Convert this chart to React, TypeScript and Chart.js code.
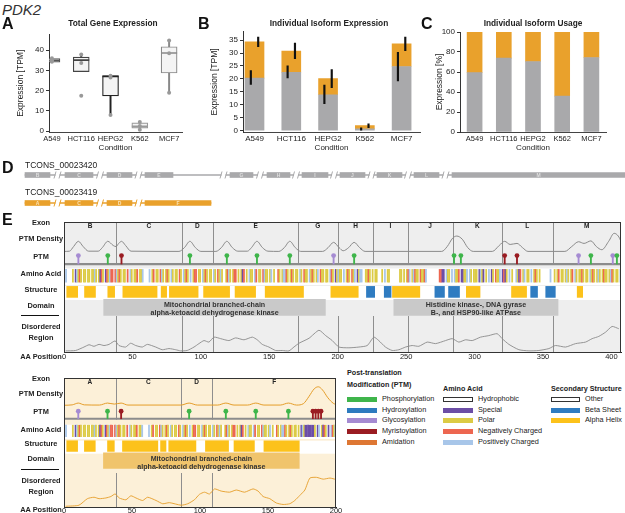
import React, { useEffect, useRef } from "react";
import { Chart, registerables } from "chart.js";
Chart.register(...registerables);

const FONT = "'Liberation Sans', Arial, Helvetica, sans-serif";
Chart.defaults.font.family = FONT;
Chart.defaults.color = "#222";

const GRAY = "#a9a9ab";
const ORANGE = "#e9a12c";

// ---------- Panels A-C ----------
const conditions = ["A549", "HCT116", "HEPG2", "K562", "MCF7"];
const totalQ1 = [34.1, 29.4, 17.4, 1.4, 28.7];
const totalMedian = [35.0, 35.1, 27.0, 2.3, 38.6];
const totalQ3 = [35.9, 36.6, 27.4, 4.1, 41.7];
const totalWhiskerLow = [33.9, 29.4, 8.0, 0.6, 19.0];
const totalWhiskerHigh = [36.3, 37.9, 27.6, 4.4, 44.8];
const totalPoints = [
  [36.0, 35.0, 34.3],
  [37.9, 33.7, 17.5],
  [27.4, 26.5, 8.0],
  [4.5, 2.5, 0.6],
  [44.8, 38.5, 19.0],
];
const boxEdge = ["#555", "#444", "#222", "#999", "#888"];

const isoGrayTPM = [20.3, 22.6, 13.9, 0.72, 24.8];
const isoOrangeTPM = [14.0, 8.2, 6.2, 1.28, 8.8];
const isoGrayErrLow = [17.9, 20.4, 10.5, 0.0, 19.2];
const isoGrayErrHigh = [23.2, 25.1, 17.6, 1.1, 30.3];
const isoTotalErrLow = [32.5, 27.8, 16.6, 1.2, 30.9];
const isoTotalErrHigh = [36.2, 33.8, 23.6, 2.7, 36.2];

const usageGray = [59.4, 73.8, 70.5, 35.9, 74.5];
const usageOrange = [40.6, 26.2, 29.5, 64.1, 25.5];

// ---------- Panel D ----------
const iso1Name = "TCONS_00023420";
const iso2Name = "TCONS_00023419";
const iso1ExonLabels = ["B", "C", "D", "E", "G", "H", "I", "J", "K", "L", "M"];
const iso2ExonLabels = ["A", "C", "D", "F"];
const trackGrayStart = [25, 65, 107, 145, 230, 267, 302, 340, 377, 414, 452];
const trackGrayEnd = [50, 93, 132, 173, 253, 290, 328, 365, 402, 439, 625];
const trackGrayBreaks = [57.5, 100, 138.5, 223.5, 260, 296, 334, 371.5, 408, 445.5];
const trackOrangeStart = [25, 65, 107, 145];
const trackOrangeEnd = [50, 93, 132, 211];
const trackOrangeBreaks = [57.5, 100, 138.5];

// ---------- Panel E ----------
const iso1Length = 407;
const iso2Length = 200;
const iso1ExonBounds = [0, 38, 86, 109, 171, 200, 226, 251, 284, 320, 357, 407];
const iso2ExonBounds = [0, 38, 86, 109, 200];

const iso1PtmPos = [10.5, 32, 42, 92, 119, 141, 165, 197, 212, 285, 290, 322, 331, 376, 385, 401, 404];
const iso1PtmType = ["Glycosylation", "Phosphorylation", "Myristoylation", "Phosphorylation", "Phosphorylation",
  "Phosphorylation", "Phosphorylation", "Glycosylation", "Phosphorylation", "Phosphorylation", "Phosphorylation",
  "Myristoylation", "Myristoylation", "Glycosylation", "Phosphorylation", "Glycosylation", "Phosphorylation"];
const iso2PtmPos = [10.5, 32, 42, 92, 119, 141, 165, 183, 185, 187, 189];
const iso2PtmType = ["Glycosylation", "Phosphorylation", "Myristoylation", "Phosphorylation", "Phosphorylation",
  "Phosphorylation", "Phosphorylation", "Myristoylation", "Myristoylation", "Myristoylation", "Myristoylation"];

const iso1Density = [
  [0, 0.02], [4, 0.03], [7, 0.25], [10.5, 0.5], [14, 0.25], [18, 0.03],
  [25, 0.03], [28, 0.2], [32, 0.5], [36, 0.3], [38, 0.25], [40, 0.4], [42, 0.5], [45, 0.3], [49, 0.03],
  [84, 0.02], [88, 0.2], [92, 0.5], [96, 0.2], [100, 0.02],
  [111, 0.02], [115, 0.2], [119, 0.5], [123, 0.2], [127, 0.03],
  [134, 0.03], [137, 0.2], [141, 0.5], [145, 0.2], [149, 0.03],
  [157, 0.02], [161, 0.2], [165, 0.5], [169, 0.2], [173, 0.02],
  [189, 0.02], [193, 0.2], [197, 0.45], [201, 0.2], [204, 0.05], [208, 0.2], [212, 0.45], [216, 0.2], [220, 0.02],
  [276, 0.02], [280, 0.25], [284, 0.65], [287, 0.75], [291, 0.6], [295, 0.2], [299, 0.02],
  [313, 0.02], [318, 0.3], [322, 0.5], [326, 0.35], [331, 0.4], [335, 0.2], [339, 0.02],
  [366, 0.02], [371, 0.25], [376, 0.48], [380, 0.4], [385, 0.52], [389, 0.25], [393, 0.1],
  [398, 0.5], [402, 0.88], [405, 0.75], [407, 0.5],
];
const iso2Density = [
  [0, 0.02], [6, 0.04], [10.5, 0.13], [15, 0.04], [26, 0.03], [32, 0.13], [37, 0.08], [42, 0.13], [47, 0.03],
  [86, 0.03], [92, 0.13], [98, 0.03], [113, 0.03], [119, 0.13], [125, 0.03], [135, 0.03], [141, 0.13],
  [147, 0.03], [159, 0.03], [165, 0.13], [171, 0.03], [176, 0.1], [180, 0.45], [184, 0.85], [187, 0.95],
  [190, 0.8], [194, 0.4], [198, 0.12], [200, 0.06],
];

const iso1Disorder = [
  [1.2, 0.03], [8.5, 0.04], [14.6, 0.13], [18.3, 0.19], [21.9, 0.15], [25.6, 0.2], [29.2, 0.17], [32.9, 0.2],
  [37.3, 0.29], [40.2, 0.17], [45, 0.13], [48.7, 0.23], [52.4, 0.17], [57.2, 0.13], [60.9, 0.2], [67, 0.13],
  [71.8, 0.06], [76.7, 0.09], [81.6, 0.06], [85.2, 0.03], [90, 0.04], [95, 0.13], [98.6, 0.22], [102.3, 0.3],
  [105.9, 0.26], [109.6, 0.39], [114.5, 0.35], [120.5, 0.3], [125.4, 0.37], [131.5, 0.32], [137.6, 0.39],
  [141.2, 0.32], [144.9, 0.2], [149.7, 0.13], [154.6, 0.04], [159.5, 0.04], [164.4, 0.03], [168, 0.13],
  [171.7, 0.23], [179, 0.36], [186.3, 0.57], [191.2, 0.43], [196, 0.3], [200.9, 0.13], [208.2, 0.11],
  [215.5, 0.13], [221.6, 0.17], [226.4, 0.39], [230, 0.3], [234.9, 0.13], [239.8, 0.04], [244.7, 0.06],
  [249.6, 0.13], [254.4, 0.17], [259.3, 0.15], [265.4, 0.26], [271.5, 0.22], [278.8, 0.3], [283.7, 0.35],
  [288.5, 0.26], [293.4, 0.32], [298.3, 0.3], [304.4, 0.39], [310.4, 0.43], [316.5, 0.48], [320.2, 0.35],
  [325.1, 0.2], [332.4, 0.06], [339.7, 0.03], [347, 0.04], [354.3, 0.09], [359.1, 0.17], [366.5, 0.13],
  [373.8, 0.22], [381.1, 0.26], [385.9, 0.35], [390.8, 0.41], [395.7, 0.52], [400.5, 0.67], [405.4, 0.61],
];
const iso2Disorder = [
  [1.2, 0.02], [11, 0.05], [17.2, 0.23], [22.1, 0.27], [25.8, 0.23], [30.8, 0.25], [34.5, 0.29], [37.6, 0.36],
  [40.6, 0.25], [45.5, 0.2], [49.2, 0.31], [52.9, 0.25], [57.8, 0.18], [61.5, 0.27], [67.7, 0.18], [72.6, 0.09],
  [77.5, 0.12], [86.1, 0.05], [91, 0.09], [95.9, 0.2], [99.6, 0.35], [103.3, 0.41], [107, 0.36], [110.7, 0.5],
  [115.6, 0.44], [121.8, 0.41], [126.7, 0.47], [132.8, 0.41], [139, 0.5], [142.7, 0.44], [146.4, 0.29],
  [151.3, 0.23], [156.2, 0.11], [161.1, 0.07], [166, 0.09], [169.7, 0.18], [173.4, 0.32], [177.1, 0.47],
  [180.8, 0.8], [185.7, 0.82], [190.6, 0.77], [195.6, 0.8], [200, 0.76],
];

// amino-acid class per residue: . hydrophobic, s special, p polar, n negative, b positive
const iso1AAClass = [
  ".b....p.sb", "pnp.pp.pp.", "ppbp.psnp.", "snpbnn.nbp", "np.pp.n.bp",
  ".ppn.ppb..", "..b.pn.pp.", "nbp.pnp.bp", ".pp.np.bpn", "p.b.pnn.pp",
  ".bpnp.pp.b", "p.npbp..pn", "bp.pnn.p.p", "sn.p.bpp.b", "n.pp.nbpp.",
  "pb.p..np.p", "bbnp.pnp.p", "p.bp.npp.b", "pnp.pb.npp", ".pp.bnp.sp",
  "bpp.b.pnp.", "npb.spbb..", "ppnp.p.pp.", "..p.b.pp..", ".....pp.p.",
  "pnb.pbnpp.", "nppnb.....", "....nnss.b", "pp.b.bppn.", "ssppb.bp.p",
  "pp.sbps.p.", "b.sp.nppb.", "snsp.b.p..", "bpsn.pb.pp", ".b.pnp.p..",
  ".....b..p.", "pn.pp.pbp.", "pn.bp.ppnp", ".pp.bpnp.p", "bp.pnpp.pb",
  "np.pp.b",
].join("");
const iso2AAClass = iso1AAClass.slice(0, 172) + "p.sbpsssssssp.sb.psnp.s.bnpb";

const iso1Helix = [[2, 10], [15, 23], [32, 37], [43, 68], [71, 75], [77, 98], [102, 121], [125, 140], [147, 175],
  [195, 215], [240, 260], [294, 304], [327, 338], [375, 379]];
const iso1Sheet = [[221, 227], [234, 239], [271, 278], [281, 289], [341, 346], [352, 359]];
const iso2Helix = [[2, 10], [15, 23], [32, 37], [43, 69], [71, 75], [77, 97], [104, 121], [125, 140], [147, 173]];
const iso2Sheet: number[][] = [];

const iso1DomainStart = [29, 241];
const iso1DomainEnd = [191, 361];
const iso1DomainText = [
  ["Mitochondrial branched-chain", "alpha-ketoacid dehydrogenase kinase"],
  ["Histidine kinase-, DNA gyrase", "B-, and HSP90-like ATPase"],
];
const iso2DomainStart = [29];
const iso2DomainEnd = [173];
const iso2DomainText = [["Mitochondrial branched-chain", "alpha-ketoacid dehydrogenase kinase"]];

const ptmLegend = ["Phosphorylation", "Hydroxylation", "Glycosylation", "Myristoylation", "Amidation"];
const aaLegend = ["Hydrophobic", "Special", "Polar", "Negatively Charged", "Positively Charged"];
const ssLegend = ["Other", "Beta Sheet", "Alpha Helix"];

const PTM_COLORS: Record<string, string> = {
  Phosphorylation: "#3fb54b", Hydroxylation: "#2d7bbf", Glycosylation: "#a58bd2",
  Myristoylation: "#9a1c22", Amidation: "#de7733",
};
const AA_COLORS: Record<string, string> = { s: "#6c4ea6", p: "#dccb45", n: "#ed6650", b: "#a8c6e9" };
const AA_LEGEND_COLORS = ["#ffffff", "#6c4ea6", "#dccb45", "#ed6650", "#a8c6e9"];
const SS_LEGEND_COLORS = ["#ffffff", "#2f7cc1", "#fcc21b"];
const HELIX = "#fcc21b";
const SHEET = "#2f7cc1";

// ---------- helpers ----------
const baseOptions = (extra: any) => ({
  responsive: false,
  animation: false,
  devicePixelRatio: 1,
  events: [],
  plugins: { legend: { display: false }, tooltip: { enabled: false }, title: { display: false } },
  ...extra,
});

const yAxisABC = (min: number, max: number, step: number, title: string, width: number) => ({
  type: "linear",
  min,
  max,
  offset: false,
  grid: { display: true, drawOnChartArea: false, drawTicks: true, tickLength: 3, color: "#333" },
  border: { display: true, color: "#333", width: 1 },
  ticks: { stepSize: step, includeBounds: false, padding: 2, font: { size: 8 }, color: "#222" },
  title: { display: true, text: title, font: { size: 8.5 }, padding: 0, color: "#222" },
  afterFit: (s: any) => { s.width = width; },
});
const xAxisABC = (min: number, max: number, fontSize: number) => ({
  type: "linear",
  min,
  max,
  offset: false,
  grid: { display: false, drawTicks: false, offset: false },
  border: { display: true, color: "#444", width: 1 },
  ticks: {
    autoSkip: false, maxRotation: 0, padding: 2,
    font: { size: fontSize }, color: "#222",
    callback: (v: any) => conditions[v] ?? "",
  },
  afterBuildTicks: (s: any) => { s.ticks = conditions.map((c, i) => ({ value: i })); },
  title: { display: true, text: "Condition", font: { size: 8 }, padding: 0, color: "#222" },
  afterFit: (s: any) => { s.height = 21; },
});

function makeA() {
  const pts: any[] = [];
  totalPoints.forEach((arr, i) => arr.forEach((v) => pts.push({ x: i, y: v })));
  return {
    type: "bar",
    data: {
      datasets: [
        { type: "scatter", data: pts, pointRadius: 2, pointBackgroundColor: "#999", pointBorderWidth: 0, order: 1 },
        {
          type: "scatter", data: conditions.map((c, i) => ({ x: i, y: totalMedian[i] })), pointStyle: "line",
          pointRadius: 8, pointBorderColor: boxEdge, pointBorderWidth: 1.6, order: 2,
        },
        {
          type: "bar", data: conditions.map((c, i) => ({ x: i, y: [totalQ1[i], totalQ3[i]] })),
          backgroundColor: "#f4f4f4", borderColor: boxEdge, borderWidth: 1.2, borderSkipped: false,
          barThickness: 16, grouped: false, order: 3,
        },
        {
          type: "bar", data: conditions.map((c, i) => ({ x: i, y: [totalWhiskerLow[i], totalQ1[i]] })),
          backgroundColor: boxEdge, barThickness: 1.3, grouped: false, order: 4,
        },
        {
          type: "bar", data: conditions.map((c, i) => ({ x: i, y: [totalQ3[i], totalWhiskerHigh[i]] })),
          backgroundColor: boxEdge, barThickness: 1.3, grouped: false, order: 4,
        },
      ],
    },
    options: baseOptions({
      layout: { padding: { left: 16, top: 3, right: 13, bottom: 0 } },
      scales: { x: xAxisABC(-0.1, 4.44, 7.5), y: yAxisABC(-0.46, 47.7, 10, "Expression [TPM]", 33) },
    }),
  };
}

function makeB() {
  return {
    type: "bar",
    data: {
      datasets: [
        {
          type: "bar", data: conditions.map((c, i) => ({ x: i - 0.1, y: [isoGrayErrLow[i], isoGrayErrHigh[i]] })),
          backgroundColor: "#111", barThickness: 1.5, grouped: false, order: 1,
        },
        {
          type: "bar", data: conditions.map((c, i) => ({ x: i + 0.1, y: [isoTotalErrLow[i], isoTotalErrHigh[i]] })),
          backgroundColor: "#111", barThickness: 1.5, grouped: false, order: 1,
        },
        {
          type: "bar", data: conditions.map((c, i) => ({ x: i, y: [0, isoGrayTPM[i]] })),
          backgroundColor: GRAY, barThickness: 19, grouped: false, order: 2,
        },
        {
          type: "bar", data: conditions.map((c, i) => ({ x: i, y: [isoGrayTPM[i], isoGrayTPM[i] + isoOrangeTPM[i]] })),
          backgroundColor: ORANGE, barThickness: 19, grouped: false, order: 2,
        },
      ],
    },
    options: baseOptions({
      layout: { padding: { left: 10, top: 3, right: 5, bottom: 0 } },
      scales: { x: xAxisABC(-0.313, 4.5, 8), y: yAxisABC(-0.48, 38.2, 5, "Expression [TPM]", 33) },
    }),
  };
}

function makeC() {
  return {
    type: "bar",
    data: {
      datasets: [
        {
          type: "bar", data: conditions.map((c, i) => ({ x: i, y: [0, usageGray[i]] })),
          backgroundColor: GRAY, barThickness: 15, grouped: false,
        },
        {
          type: "bar", data: conditions.map((c, i) => ({ x: i, y: [usageGray[i], usageGray[i] + usageOrange[i]] })),
          backgroundColor: ORANGE, barThickness: 15, grouped: false,
        },
      ],
    },
    options: baseOptions({
      layout: { padding: { left: 20, top: 7, right: 19, bottom: 0 } },
      scales: { x: xAxisABC(-0.5, 4.5, 7.5), y: yAxisABC(0, 100, 20, "Expression [%]", 25) },
    }),
  };
}

function makeD() {
  const tracks = [
    { name: iso1Name, starts: trackGrayStart, ends: trackGrayEnd, breaks: trackGrayBreaks, labels: iso1ExonLabels, color: GRAY, text: "#dedede" },
    { name: iso2Name, starts: trackOrangeStart, ends: trackOrangeEnd, breaks: trackOrangeBreaks, labels: iso2ExonLabels, color: ORANGE, text: "#fbe2b4" },
  ];
  const datasets: any[] = [];
  tracks.forEach((t) => {
    datasets.push({
      type: "bar", data: t.starts.map((s, i) => ({ x: [s, t.ends[i]], y: t.name })),
      backgroundColor: t.color, barThickness: 5, grouped: false, order: 1,
    });
    datasets.push({
      type: "bar", data: [{ x: [t.starts[0], t.ends[t.ends.length - 1]], y: t.name }],
      backgroundColor: t.color, barThickness: 1, grouped: false, order: 2,
    });
  });
  const plugin = {
    id: "dDecor",
    afterDatasetsDraw(chart: any) {
      const { ctx, scales } = chart;
      const x = scales.x, y = scales.y;
      ctx.save();
      tracks.forEach((t, row) => {
        const cy = y.getPixelForValue(row);
        t.breaks.forEach((b) => {
          const cx = x.getPixelForValue(b);
          ctx.fillStyle = "#fff";
          ctx.fillRect(cx - 2, cy - 1.5, 4, 3);
          ctx.strokeStyle = t.color;
          ctx.lineWidth = 1;
          ctx.beginPath();
          ctx.moveTo(cx - 3.5, cy + 3.5); ctx.lineTo(cx - 1.5, cy - 3.5);
          ctx.moveTo(cx + 1.5, cy + 3.5); ctx.lineTo(cx + 3.5, cy - 3.5);
          ctx.stroke();
        });
        ctx.fillStyle = t.text;
        ctx.font = `bold 5px ${FONT}`;
        ctx.textAlign = "center";
        ctx.textBaseline = "middle";
        t.labels.forEach((l, i) => {
          const cx = (x.getPixelForValue(t.starts[i]) + x.getPixelForValue(t.ends[i])) / 2;
          ctx.fillText(l, cx, cy + 0.3);
        });
      });
      ctx.restore();
    },
  };
  return {
    type: "bar",
    data: { labels: [iso1Name, iso2Name], datasets },
    options: baseOptions({
      indexAxis: "y",
      layout: { padding: 0 },
      scales: {
        x: { type: "linear", min: 0, max: 625, display: false, offset: false },
        y: { type: "category", display: false, offset: true },
      },
    }),
    plugins: [plugin],
  };
}

type Row = [number, number];
interface ERows { label: number; dens: Row; ptm: Row; aa: Row; aaBand: Row; st: Row; stBand: Row; dom: Row; dis: Row; }
interface EParams {
  aaMax: number; areaW: number; areaH: number; padRight: number; tickPad: number;
  bounds: number[]; labels: string[]; ptmPos: number[]; ptmType: string[];
  density: number[][]; disorder: number[][]; aaClass: string; helix: number[][]; sheet: number[][];
  domStart: number[]; domEnd: number[]; domText: string[][];
  bg: string; curve: string; domFill: string; rows: ERows;
}

function makeE(p: EParams) {
  const H = p.areaH;
  const band = (r: Row) => ({
    type: "linear", axis: "y", display: false, offset: false,
    min: -(H - r[1]) / (r[1] - r[0]), max: 1 + r[0] / (r[1] - r[0]),
  });
  const aaData: any[] = [];
  const aaColors: string[] = [];
  for (let i = 0; i < p.aaClass.length; i++) {
    const c = AA_COLORS[p.aaClass[i]];
    if (c) { aaData.push({ x: i + 0.5, y: [0, 1] }); aaColors.push(c); }
  }
  const ptmColors = p.ptmType.map((t) => PTM_COLORS[t]);
  const residuePx = p.areaW / p.aaMax;
  const r = p.rows;
  const datasets: any[] = [
    {
      type: "scatter", yAxisID: "yPtm", data: p.ptmPos.map((v) => ({ x: v, y: 1 })),
      pointRadius: 2.4, pointBackgroundColor: ptmColors, pointBorderWidth: 0, order: 1,
    },
    {
      type: "bar", yAxisID: "yPtm", data: p.ptmPos.map((v) => ({ x: v, y: [0, 1] })),
      backgroundColor: ptmColors, barThickness: 1.2, grouped: false, order: 2,
    },
    {
      type: "line", yAxisID: "yPtm", data: [{ x: 0, y: 0 }, { x: p.aaMax, y: 0 }],
      borderColor: "#8c8c8c", borderWidth: 2.2, pointRadius: 0, order: 3,
    },
    {
      type: "line", yAxisID: "yDens", data: p.density.map(([x, y]) => ({ x, y })),
      borderColor: p.curve, borderWidth: 1, pointRadius: 0, cubicInterpolationMode: "monotone", order: 4,
    },
    {
      type: "line", yAxisID: "yDis", data: p.disorder.map(([x, y]) => ({ x, y })),
      borderColor: p.curve, borderWidth: 0.9, pointRadius: 0, tension: 0.2, order: 4,
    },
    {
      type: "bar", yAxisID: "yAA", data: aaData, backgroundColor: aaColors,
      barThickness: residuePx * 0.8, grouped: false, order: 5,
    },
    {
      type: "bar", indexAxis: "y", xAxisID: "x", yAxisID: "yStr",
      data: p.helix.map(([s, e]) => ({ x: [s, e], y: 0.5 })),
      backgroundColor: HELIX, barThickness: r.st[1] - r.st[0], grouped: false, order: 5,
    },
    {
      type: "bar", indexAxis: "y", xAxisID: "x", yAxisID: "yStr",
      data: p.sheet.map(([s, e]) => ({ x: [s, e], y: 0.5 })),
      backgroundColor: SHEET, barThickness: r.st[1] - r.st[0], grouped: false, order: 5,
    },
    {
      type: "bar", indexAxis: "y", xAxisID: "x", yAxisID: "yDom",
      data: p.domStart.map((s, i) => ({ x: [s, p.domEnd[i]], y: 0.5 })),
      backgroundColor: p.domFill, barThickness: r.dom[1] - r.dom[0], grouped: false, order: 6,
    },
  ];
  const plugin = {
    id: "eDecor",
    beforeDraw(chart: any) {
      const { ctx, chartArea: a, scales } = chart;
      const x = scales.x;
      ctx.save();
      ctx.fillStyle = p.bg;
      ctx.fillRect(a.left, a.top, a.width, a.height);
      ctx.fillStyle = "#fff";
      ctx.fillRect(a.left, a.top + r.aaBand[0], a.width, r.aaBand[1] - r.aaBand[0]);
      ctx.fillRect(a.left, a.top + r.stBand[0], a.width, r.stBand[1] - r.stBand[0]);
      ctx.strokeStyle = "#8e8e8e";
      ctx.lineWidth = 1;
      for (let i = 1; i < p.bounds.length - 1; i++) {
        const xx = Math.round(x.getPixelForValue(p.bounds[i])) + 0.5;
        ctx.beginPath();
        ctx.moveTo(xx, a.top); ctx.lineTo(xx, a.top + r.ptm[1]);
        ctx.moveTo(xx, a.top + r.dis[0]); ctx.lineTo(xx, a.bottom);
        ctx.stroke();
      }
      ctx.restore();
    },
    afterDraw(chart: any) {
      const { ctx, chartArea: a, scales } = chart;
      const x = scales.x;
      ctx.save();
      ctx.fillStyle = "#222";
      ctx.textAlign = "center";
      ctx.textBaseline = "middle";
      ctx.font = `bold 6.5px ${FONT}`;
      for (let i = 0; i < p.labels.length; i++) {
        const cx = (x.getPixelForValue(p.bounds[i]) + x.getPixelForValue(p.bounds[i + 1])) / 2;
        ctx.fillText(p.labels[i], cx, a.top + r.label);
      }
      ctx.font = `bold 7.1px ${FONT}`;
      ctx.fillStyle = "#333";
      const dc = a.top + (r.dom[0] + r.dom[1]) / 2;
      p.domStart.forEach((s, i) => {
        const cx = (x.getPixelForValue(s) + x.getPixelForValue(p.domEnd[i])) / 2;
        ctx.fillText(p.domText[i][0], cx, dc - 3.8);
        ctx.fillText(p.domText[i][1], cx, dc + 4.2);
      });
      ctx.strokeStyle = "#333";
      ctx.lineWidth = 1;
      ctx.strokeRect(Math.round(a.left) + 0.5, Math.round(a.top) + 0.5, Math.round(a.width) - 1, Math.round(a.height));
      ctx.restore();
    },
  };
  return {
    type: "bar",
    data: { datasets },
    options: baseOptions({
      layout: { padding: { left: 20, right: p.padRight, top: 1, bottom: 0 } },
      scales: {
        x: {
          type: "linear", min: 0, max: p.aaMax, offset: false,
          grid: { display: false, drawTicks: false, offset: false },
          border: { display: true, color: "#222", width: 1 },
          ticks: { stepSize: 50, includeBounds: false, autoSkip: false, maxRotation: 0, padding: p.tickPad, font: { size: 7.5 }, color: "#222" },
          afterFit: (s: any) => { s.height = 12; },
        },
        yDens: band(r.dens),
        yPtm: band(r.ptm),
        yAA: band(r.aa),
        yStr: band(r.st),
        yDom: band(r.dom),
        yDis: band(r.dis),
      },
    }),
    plugins: [plugin],
  };
}

function makeETop() {
  return makeE({
    aaMax: iso1Length, areaW: 558, areaH: 133, padRight: 3, tickPad: 0,
    bounds: iso1ExonBounds, labels: iso1ExonLabels, ptmPos: iso1PtmPos, ptmType: iso1PtmType,
    density: iso1Density, disorder: iso1Disorder, aaClass: iso1AAClass, helix: iso1Helix, sheet: iso1Sheet,
    domStart: iso1DomainStart, domEnd: iso1DomainEnd, domText: iso1DomainText,
    bg: "#eeeeee", curve: "#8a8a8a", domFill: "#c9c9c9",
    rows: {
      label: 4.5, dens: [9, 30.5], ptm: [34.3, 43], aa: [48.5, 61.5], aaBand: [46.5, 63],
      st: [66, 77], stBand: [64, 78], dom: [79.3, 95.3], dis: [94, 133],
    },
  });
}
function makeEBottom() {
  return makeE({
    aaMax: iso2Length, areaW: 272, areaH: 132, padRight: 10, tickPad: -1,
    bounds: iso2ExonBounds, labels: iso2ExonLabels, ptmPos: iso2PtmPos, ptmType: iso2PtmType,
    density: iso2Density, disorder: iso2Disorder, aaClass: iso2AAClass, helix: iso2Helix, sheet: iso2Sheet,
    domStart: iso2DomainStart, domEnd: iso2DomainEnd, domText: iso2DomainText,
    bg: "#fcf0d8", curve: "#e59d28", domFill: "#f0c46c",
    rows: {
      label: 4.5, dens: [8, 28.3], ptm: [34, 41.7], aa: [48.3, 60], aaBand: [46.7, 61],
      st: [64.3, 75], stBand: [62.7, 75.7], dom: [76.7, 92.3], dis: [95, 132],
    },
  });
}

function ChartBox({ x, y, w, h, make }: { x: number; y: number; w: number; h: number; make: () => any }) {
  const ref = useRef<HTMLCanvasElement | null>(null);
  useEffect(() => {
    const chart = new Chart(ref.current as HTMLCanvasElement, make());
    return () => chart.destroy();
  }, []);
  return <canvas ref={ref} width={w} height={h} style={{ position: "absolute", left: x, top: y, width: w, height: h }} />;
}

function T({ x, y, s, text, bold, italic, align, color }: any) {
  const lh = s * 1.2;
  const style: any = {
    position: "absolute", top: y - lh / 2, fontSize: s, lineHeight: `${lh}px`,
    fontWeight: bold ? 700 : 400, fontStyle: italic ? "italic" : "normal",
    color: color || "#222", whiteSpace: "nowrap", fontFamily: FONT,
  };
  if (align === "center") { style.left = x; style.transform = "translateX(-50%)"; }
  else style.left = x;
  return <div style={style}>{text}</div>;
}

function Swatch({ x, y, w, h, color, outline }: any) {
  return (
    <div style={{
      position: "absolute", left: x, top: y - h / 2, width: w, height: h, background: color,
      boxSizing: "border-box", border: outline ? "1px solid #333" : "none",
    }} />
  );
}

const eTopLabels: [string, number][] = [
  ["Exon", 223.5], ["PTM Density", 239.3], ["PTM", 257.5], ["Amino Acid", 274.5], ["Structure", 290.3],
  ["Domain", 306], ["Disordered", 327.5], ["Region", 338.5], ["AA Position", 357],
];
const eBotLabels: [string, number][] = [
  ["Exon", 379.5], ["PTM Density", 394], ["PTM", 412.3], ["Amino Acid", 430], ["Structure", 444.7],
  ["Domain", 459.3], ["Disordered", 481], ["Region", 492], ["AA Position", 510],
];

export default function App() {
  const legendRows = [399.5, 410.2, 420.8, 431.5, 442.2];
  return (
    <div style={{ position: "absolute", left: 0, top: 0, width: 625, height: 513, overflow: "hidden", background: "#fff", fontFamily: FONT }}>
      <ChartBox x={0} y={25} w={195} h={128} make={makeA} />
      <ChartBox x={200} y={25} w={225} h={128} make={makeB} />
      <ChartBox x={415} y={25} w={210} h={128} make={makeC} />
      <ChartBox x={0} y={161} w={625} h={56} make={makeD} />
      <ChartBox x={44} y={218} w={581} h={146} make={makeETop} />
      <ChartBox x={44} y={374} w={302} h={145} make={makeEBottom} />

      <T x={2} y={9.5} s={15} text="PDK2" italic color="#333" />
      <T x={2} y={24} s={16} text="A" bold color="#111" />
      <T x={198} y={24} s={16} text="B" bold color="#111" />
      <T x={421} y={24} s={16} text="C" bold color="#111" />
      <T x={2} y={168} s={16} text="D" bold color="#111" />
      <T x={2} y={220} s={16} text="E" bold color="#111" />

      <T x={113} y={24} s={8.3} text="Total Gene Expression" bold align="center" />
      <T x={329} y={23.5} s={8.3} text="Individual Isoform Expression" bold align="center" />
      <T x={533} y={23.5} s={8.3} text="Individual Isoform Usage" bold align="center" />

      <T x={25} y={165} s={8.5} text={iso1Name} />
      <T x={25} y={192.5} s={8.5} text={iso2Name} />

      {eTopLabels.map(([t, y]) => <T key={"t" + t} x={41} y={y} s={7.4} text={t} bold align="center" />)}
      {eBotLabels.map(([t, y]) => <T key={"b" + t} x={41} y={y} s={7.4} text={t} bold align="center" />)}
      <div style={{ position: "absolute", left: 21, top: 315, width: 38, height: 1, background: "#111" }} />
      <div style={{ position: "absolute", left: 21, top: 469, width: 38, height: 1, background: "#111" }} />

      <T x={347} y={373.5} s={7.2} text="Post-translation" bold />
      <T x={347} y={385} s={7.2} text="Modification (PTM)" bold />
      {ptmLegend.map((l, i) => (
        <React.Fragment key={l}>
          <Swatch x={347} y={legendRows[i]} w={30} h={5} color={PTM_COLORS[l]} />
          <T x={382} y={legendRows[i]} s={7.3} text={l} />
        </React.Fragment>
      ))}
      <T x={443} y={389} s={7.2} text="Amino Acid" bold />
      {aaLegend.map((l, i) => (
        <React.Fragment key={l}>
          <Swatch x={443} y={legendRows[i]} w={30} h={5} color={AA_LEGEND_COLORS[i]} outline={i === 0} />
          <T x={478} y={legendRows[i]} s={7.3} text={l} />
        </React.Fragment>
      ))}
      <T x={551} y={389} s={7.2} text="Secondary Structure" bold />
      {ssLegend.map((l, i) => (
        <React.Fragment key={l}>
          <Swatch x={551} y={legendRows[i]} w={29} h={5} color={SS_LEGEND_COLORS[i]} outline={i === 0} />
          <T x={585} y={legendRows[i]} s={7.3} text={l} />
        </React.Fragment>
      ))}
    </div>
  );
}
